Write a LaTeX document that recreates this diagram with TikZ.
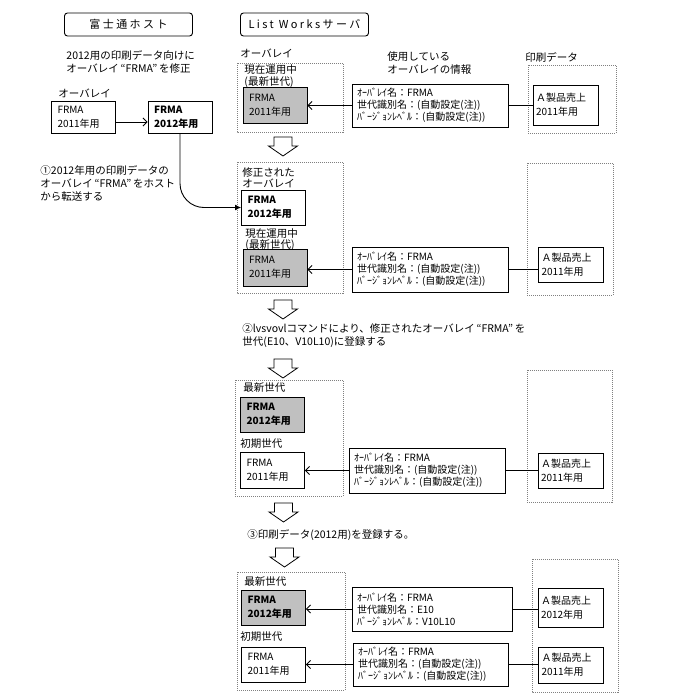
\documentclass[tikz,border=0pt]{standalone}
\usepackage{fontspec}
\setmainfont{Noto Sans CJK JP}
\newfontfamily\hdfont[LetterSpace=22]{Noto Sans CJK JP}
\usetikzlibrary{arrows.meta}
\definecolor{ovgray}{RGB}{192,192,192}
\definecolor{dotgray}{RGB}{128,128,128}
\tikzstyle{hdr}=[draw,rounded corners=3pt,minimum width=128,minimum height=23,font=\hdfont\fontsize{11}{13}\selectfont]
\tikzstyle{lbl}=[anchor=west,inner sep=0pt,align=left,font=\fontsize{10.5}{13}\selectfont]
\tikzstyle{plbl}=[lbl,font=\fontsize{10.5}{11.5}\selectfont]
\tikzstyle{ovl}=[draw,align=left,text width=52,inner xsep=6,minimum height=35,font=\fontsize{10}{14}\selectfont]
\tikzstyle{cur}=[ovl,fill=ovgray]
\tikzstyle{newgen}=[font=\bfseries\fontsize{10}{14}\selectfont]
\tikzstyle{info}=[draw,align=left,text width=146,inner xsep=5,minimum height=44,font=\fontsize{10}{12}\selectfont]
\tikzstyle{prt}=[draw,align=left,text width=59,inner xsep=3,minimum height=36,font=\fontsize{10}{14}\selectfont]
\tikzstyle{dotframe}=[draw=dotgray,line width=0.8pt,dash pattern=on 1pt off 1pt]
\tikzset{dnarrow/.pic={\draw[line width=0.8pt] (-9,0) -- (9,0) -- (9,9) -- (14.5,9) -- (0,19) -- (-14.5,9) -- (-9,9) -- cycle;}}
\newcommand\qFRMA{\,“FRMA”\,}

\begin{document}
\begin{tikzpicture}[x=1pt,y=-1pt,line width=0.9pt,>={Straight Barb[length=4pt,width=8pt]}]
  \useasboundingbox (0,0) rectangle (680,699);

  % headers
  \node[hdr] (host) at (128.5,24.5) {富士通ホスト};
  \node[hdr] (lws) at (304.5,24.5) {List Worksサーバ};

  % host side
  \node[lbl] (hnote) at (66,61.5) {2012用の印刷データ向けに\\オーバレイ\qFRMA を修正};
  \node[lbl] (hlab) at (58,93) {オーバレイ};
  \node[ovl,minimum height=32] (h11) at (83.5,117) {FRMA\\2011年用};
  \node[ovl,newgen,minimum height=32] (h12) at (180,117) {FRMA\\2012年用};
  \draw[->] ([yshift=-5pt]h11.east) -- ([yshift=-5pt]h12.west);
  \node[lbl] (step1) at (40,183) {①2012年用の印刷データの\\オーバレイ\qFRMA をホスト\\から転送する};

  % column titles
  \node[lbl] (lwlab) at (240,53) {オーバレイ};
  \node[lbl] (inflab) at (387,63.5) {使用している\\オーバレイの情報};
  \node[lbl] (prtlab) at (525,57) {印刷データ};

  % panel 1
  \draw[dotframe] (237,63) rectangle (343,132);
  \draw[dotframe] (528,65) rectangle (616,133);
  \node[plbl] (p1lab) at (244,76) {現在運用中\\(最新世代)};
  \node[cur,minimum height=36] (c1) at (275,105) {FRMA\\2011年用};
  \node[info,minimum height=43] (i1) at (430,105.5) {ｵｰﾊﾞﾚｲ名：FRMA\\世代識別名：(自動設定(注))\\ﾊﾞｰｼﾞｮﾝﾚﾍﾞﾙ：(自動設定(注))};
  \node[prt,minimum height=40] (a1) at (565.5,105) {Ａ製品売上\\2011年用};
  \draw[->] (i1.west) -- (i1.west -| c1.east);
  \draw (i1.east) -- (i1.east -| a1.west);

  \pic at (283,137) {dnarrow};

  % panel 2
  \draw[dotframe] (237,162) rectangle (343,293);
  \draw[dotframe] (527,163) rectangle (613,295);
  \node[plbl] (p2lab) at (242,177.5) {修正された\\オーバレイ};
  \node[ovl,newgen,fill=white] (n2) at (273.5,207.5) {FRMA\\2012年用};
  \node[plbl] (p2lab2) at (245,239.5) {現在運用中\\(最新世代)};
  \node[cur,minimum height=37] (c2) at (275,267.5) {FRMA\\2011年用};
  \node[info,minimum height=45] (i2) at (430,269.5) {ｵｰﾊﾞﾚｲ名：FRMA\\世代識別名：(自動設定(注))\\ﾊﾞｰｼﾞｮﾝﾚﾍﾞﾙ：(自動設定(注))};
  \node[prt,minimum height=35] (a2) at (571,264.5) {Ａ製品売上\\2011年用};
  \draw[->] (i2.west) -- (i2.west -| c2.east);
  \draw (i2.east) -- (i2.east -| a2.west);
  \draw[-{Latex[length=6pt,width=6pt]},rounded corners=24pt] (h12.south) |- (n2.west);

  \pic at (283,300) {dnarrow};
  \node[lbl] (step2) at (242,336) {②lvsvovlコマンドにより、修正されたオーバレイ\qFRMA を\\世代(E10、V10L10)に登録する};
  \pic at (283,359) {dnarrow};

  % panel 3
  \draw[dotframe] (235,380) rectangle (343,496);
  \draw[dotframe] (527,370) rectangle (612,502);
  \node[plbl] (p3lab) at (243,388) {最新世代};
  \node[cur,newgen] (c3) at (272.5,414.5) {FRMA\\2012年用};
  \node[plbl] (p3lab2) at (240,444) {初期世代};
  \node[ovl,minimum height=36] (o3) at (272.5,470) {FRMA\\2011年用};
  \node[info,minimum height=45] (i3) at (427,470.5) {ｵｰﾊﾞﾚｲ名：FRMA\\世代識別名：(自動設定(注))\\ﾊﾞｰｼﾞｮﾝﾚﾍﾞﾙ：(自動設定(注))};
  \node[prt,minimum height=35] (a3) at (570.5,470.5) {Ａ製品売上\\2011年用};
  \draw[->] (i3.west) -- (i3.west -| o3.east);
  \draw (i3.east) -- (i3.east -| a3.west);

  \pic at (283.5,503) {dnarrow};
  \node[lbl] (step3) at (247,535) {③印刷データ(2012用)を登録する。};
  \pic at (284.5,548) {dnarrow};

  % panel 4
  \draw[dotframe] (237,572) rectangle (345,690);
  \draw[dotframe] (532,559) rectangle (618,692);
  \node[plbl] (p4lab) at (244,582) {最新世代};
  \node[cur,newgen] (c4) at (273.5,607.5) {FRMA\\2012年用};
  \node[plbl] (p4lab2) at (240,637) {初期世代};
  \node[ovl] (o4) at (273.5,664.5) {FRMA\\2011年用};
  \node[info,text width=150] (i4) at (432,609) {ｵｰﾊﾞﾚｲ名：FRMA\\世代識別名：E10\\ﾊﾞｰｼﾞｮﾝﾚﾍﾞﾙ：V10L10};
  \node[info,text width=145,minimum height=43] (i5) at (430.5,664.5) {ｵｰﾊﾞﾚｲ名：FRMA\\世代識別名：(自動設定(注))\\ﾊﾞｰｼﾞｮﾝﾚﾍﾞﾙ：(自動設定(注))};
  \node[prt,minimum height=39] (a4) at (570.5,607.5) {Ａ製品売上\\2012年用};
  \node[prt] (a5) at (571,665) {Ａ製品売上\\2011年用};
  \draw[->] (i4.west) -- (i4.west -| c4.east);
  \draw (i4.east) -- (i4.east -| a4.west);
  \draw[->] (i5.west) -- (i5.west -| o4.east);
  \draw (i5.east) -- (i5.east -| a5.west);
\end{tikzpicture}
\end{document}
